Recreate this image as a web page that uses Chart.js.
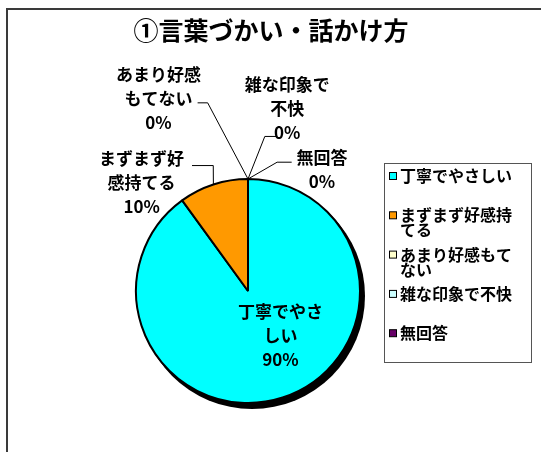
<!DOCTYPE html>
<html lang="ja">
<head>
<meta charset="utf-8">
<title>①言葉づかい・話かけ方</title>
<script src="https://cdn.jsdelivr.net/npm/chart.js@4/dist/chart.umd.min.js"></script>
<style>
  html, body { margin: 0; padding: 0; background: #fff; }
  #wrap { width: 541px; height: 452px; position: relative; }
</style>
</head>
<body>
<div id="wrap"><canvas id="pieChart" width="541" height="452"></canvas></div>
<script>
// chart data
const chartTitle = '①言葉づかい・話かけ方';
const categories = ['丁寧でやさしい', 'まずまず好感持てる', 'あまり好感もてない', '雑な印象で不快', '無回答'];
const percentValues = [90, 10, 0, 0, 0];
const sliceColors = ['#00FFFF', '#FF9900', '#FFFFCC', '#CCFFFF', '#660066'];

// how the texts are broken into lines, as in the original
const labelLines = [
    ['丁寧でやさ', 'しい'],
    ['まずまず好', '感持てる'],
    ['あまり好感', 'もてない'],
    ['雑な印象で', '不快'],
    ['無回答']
];
const legendLines = [
    ['丁寧でやさしい'],
    ['まずまず好感持', 'てる'],
    ['あまり好感もて', 'ない'],
    ['雑な印象で不快'],
    ['無回答']
];

// label placement, in pie radius units from the centre
// (tx, ty) = middle of the text block, (ex, ey) = leader elbow, (hx) = end of the short flat part
const labelLayout = [
    { tx: 0.29, ty: 0.40 },
    { tx: -0.95, ty: -0.97, ex: -0.31, ey: -1.12, hx: -0.50 },
    { tx: -0.80, ty: -1.72, ex: -0.36, ey: -1.68, hx: -0.45 },
    { tx: 0.35, ty: -1.63, ex: 0.15, ey: -1.38, hx: 0.26 },
    { tx: 0.66, ty: -1.08, ex: 0.26, ey: -1.15, hx: 0.39 }
];

const FONT = '"Noto Sans CJK JP", "Noto Sans", sans-serif';

// frame + title
const framePlugin = {
    id: 'frame',
    beforeDraw(chart) {
        const ctx = chart.ctx;
        ctx.save();
        ctx.fillStyle = '#fff';
        ctx.fillRect(0, 0, chart.width, chart.height);
        ctx.strokeStyle = '#3a3a3a';
        ctx.lineWidth = 2;
        ctx.strokeRect(7, 9, chart.width + 20, chart.height + 20);
        ctx.fillStyle = '#000';
        ctx.font = 'bold 25px ' + FONT;
        ctx.textAlign = 'center';
        ctx.textBaseline = 'middle';
        ctx.fillText(chartTitle, 271, 30);
        ctx.restore();
    }
};

// black drop shadow under the pie
const shadowPlugin = {
    id: 'pieShadow',
    beforeDatasetsDraw(chart) {
        const arc = chart.getDatasetMeta(0).data[0];
        if (!arc) return;
        const { x, y, outerRadius } = arc.getProps(['x', 'y', 'outerRadius'], true);
        const ctx = chart.ctx;
        ctx.save();
        ctx.fillStyle = '#000';
        ctx.beginPath();
        ctx.arc(x + 4, y + 5, outerRadius + 1, 0, Math.PI * 2);
        ctx.fill();
        ctx.restore();
    }
};

// data labels with leader lines
const labelPlugin = {
    id: 'pieLabels',
    afterDatasetsDraw(chart) {
        const ctx = chart.ctx;
        const meta = chart.getDatasetMeta(0);
        ctx.save();
        ctx.font = 'bold 17px ' + FONT;
        ctx.textAlign = 'center';
        ctx.textBaseline = 'middle';
        meta.data.forEach((arc, i) => {
            const p = arc.getProps(['x', 'y', 'startAngle', 'endAngle', 'outerRadius'], true);
            const r = p.outerRadius;
            const lay = labelLayout[i];
            const lines = labelLines[i].concat([percentValues[i] + '%']);
            const lh = 24;
            const cx = p.x + lay.tx * r;
            const cy = p.y + lay.ty * r;
            const top = cy - (lines.length - 1) * lh / 2;
            ctx.fillStyle = '#000';
            lines.forEach((t, k) => ctx.fillText(t, cx, top + k * lh));

            if (lay.ex !== undefined) {
                const mid = (p.startAngle + p.endAngle) / 2;
                const sx = p.x + Math.cos(mid) * r;
                const sy = p.y + Math.sin(mid) * r;
                ctx.strokeStyle = '#000';
                ctx.lineWidth = 1;
                ctx.beginPath();
                ctx.moveTo(p.x + lay.hx * r, p.y + lay.ey * r);
                ctx.lineTo(p.x + lay.ex * r, p.y + lay.ey * r);
                ctx.lineTo(sx, sy);
                ctx.stroke();
            }
        });
        ctx.restore();
    }
};

// boxed legend on the right
const legendPlugin = {
    id: 'boxLegend',
    afterDraw(chart) {
        const ctx = chart.ctx;
        const box = { x: 384, y: 163, w: 147, h: 199 };
        ctx.save();
        ctx.strokeStyle = '#555';
        ctx.lineWidth = 1;
        ctx.strokeRect(box.x + 0.5, box.y + 0.5, box.w, box.h);
        ctx.font = 'bold 16px ' + FONT;
        ctx.textAlign = 'left';
        ctx.textBaseline = 'middle';
        categories.forEach((c, i) => {
            const y = box.y + 13 + i * 39.3;
            ctx.fillStyle = sliceColors[i];
            ctx.fillRect(box.x + 5.5, y - 3.5, 7, 7);
            ctx.strokeStyle = '#000';
            ctx.strokeRect(box.x + 5.5, y - 3.5, 7, 7);
            ctx.fillStyle = '#000';
            legendLines[i].forEach((t, k) => ctx.fillText(t, box.x + 16, y + k * 15));
        });
        ctx.restore();
    }
};

new Chart(document.getElementById('pieChart'), {
    type: 'pie',
    data: {
        labels: categories,
        datasets: [{
            data: percentValues,
            backgroundColor: sliceColors,
            borderColor: '#000',
            borderWidth: 2
        }]
    },
    options: {
        responsive: false,
        animation: false,
        layout: { padding: { left: 134, right: 179, top: 178, bottom: 48 } },
        plugins: {
            legend: { display: false },
            title: { display: false },
            tooltip: { enabled: false }
        }
    },
    plugins: [framePlugin, shadowPlugin, labelPlugin, legendPlugin]
});
</script>
</body>
</html>
